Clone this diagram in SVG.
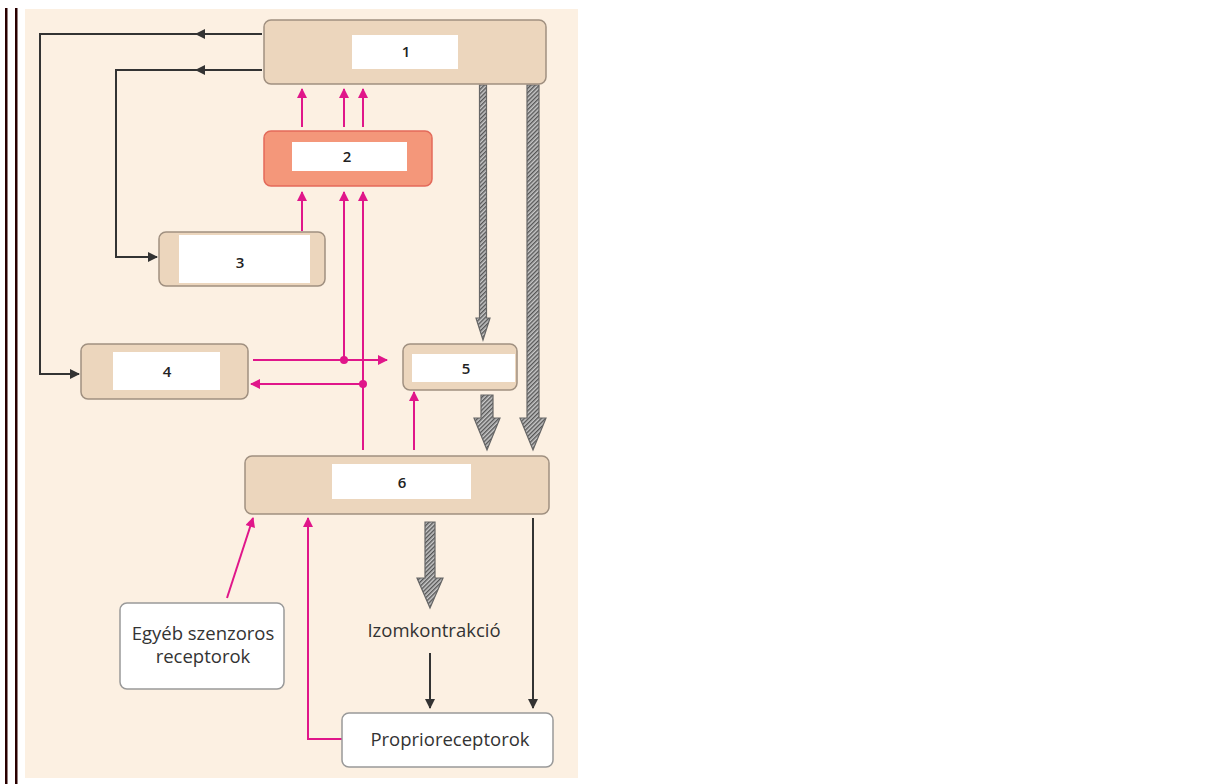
<svg xmlns="http://www.w3.org/2000/svg" width="1228" height="784" viewBox="0 0 1228 784">
<defs>
<style>
.tan{fill:#ecd6bd;stroke:#a09080;stroke-width:1.5}
.inner{fill:#ffffff;stroke:none}
.num{font-family:"Open Sans","Liberation Sans",sans-serif;font-size:15px;font-weight:600;fill:#222;text-anchor:middle}
.lbl{font-family:"Open Sans","Liberation Sans",sans-serif;font-size:18.5px;fill:#333;text-anchor:middle}
.wbox{fill:#ffffff;stroke:#999;stroke-width:1.5}
.pk{fill:none;stroke:#e0168a;stroke-width:2}
.bk{fill:none;stroke:#333;stroke-width:2}
.hatch{fill:url(#hp);stroke:#666;stroke-width:1.2}
</style>
<pattern id="hp" patternUnits="userSpaceOnUse" width="3" height="3" patternTransform="rotate(45)">
<rect width="3" height="3" fill="#c8c8c8"/>
<rect width="1.4" height="3" fill="#555"/>
</pattern>
<marker id="apk" viewBox="0 0 10 10" refX="9" refY="5" markerWidth="13" markerHeight="10" orient="auto" markerUnits="userSpaceOnUse">
<path d="M0,0 L10,5 L0,10 z" fill="#e0168a"/>
</marker>
<marker id="abk" viewBox="0 0 10 10" refX="9" refY="5" markerWidth="12" markerHeight="10" orient="auto" markerUnits="userSpaceOnUse">
<path d="M0,0 L10,5 L0,10 z" fill="#333"/>
</marker>
</defs>
<rect x="0" y="0" width="1228" height="784" fill="#ffffff"/>
<rect x="5" y="8" width="2.5" height="776" fill="#2a0000"/>
<rect x="15" y="8" width="2.5" height="776" fill="#2a0000"/>
<rect x="25" y="9" width="553" height="769" fill="#fcf0e2"/>

<g id="connectors">
<path class="bk" d="M262,34 L196,34" marker-end="url(#abk)"/>
<path class="bk" d="M198,34 L40,34 L40,374 L79,374" marker-end="url(#abk)"/>
<path class="bk" d="M262,70 L196,70" marker-end="url(#abk)"/>
<path class="bk" d="M198,70 L116,70 L116,257 L157,257" marker-end="url(#abk)"/>
<path class="pk" d="M302,127 L302,89" marker-end="url(#apk)"/>
<path class="pk" d="M344,127 L344,89" marker-end="url(#apk)"/>
<path class="pk" d="M363,127 L363,89" marker-end="url(#apk)"/>
<path class="pk" d="M302,231 L302,192" marker-end="url(#apk)"/>
<path class="pk" d="M344,360 L344,192" marker-end="url(#apk)"/>
<path class="pk" d="M363,450 L363,192" marker-end="url(#apk)"/>
<path class="pk" d="M253,360 L387,360" marker-end="url(#apk)"/>
<path class="pk" d="M363,384 L251,384" marker-end="url(#apk)"/>
<circle cx="344" cy="360" r="4" fill="#e0168a"/>
<circle cx="363" cy="384" r="4" fill="#e0168a"/>
<path class="pk" d="M414,450 L414,392" marker-end="url(#apk)"/>
<path class="pk" d="M227,598 L253,518" marker-end="url(#apk)"/>
<path class="pk" d="M342,739 L308,739 L308,518" marker-end="url(#apk)"/>
<polygon class="hatch" points="479.5,85 486.5,85 486.5,318 490,318 483,340 476,318 479.5,318"/>
<polygon class="hatch" points="527,85 539,85 539,418 546,418 533,450 520,418 527,418"/>
<polygon class="hatch" points="481,395 493,395 493,418 500,418 487,450 474,418 481,418"/>
<polygon class="hatch" points="425,522 435,522 435,578 443,578 430,608 417,578 425,578"/>
<path class="bk" d="M430,653 L430,708" marker-end="url(#abk)"/>
<path class="bk" d="M533,518 L533,708" marker-end="url(#abk)"/>
</g>

<g id="node1">
<rect class="tan" x="264" y="20" width="282" height="64" rx="7"/>
<rect class="inner" x="352" y="35" width="106" height="34"/>
<text class="num" x="406" y="57">1</text>
</g>
<g id="node2">
<rect x="264" y="131" width="168" height="55" rx="7" fill="#f4977a" stroke="#e36a5a" stroke-width="1.5"/>
<rect class="inner" x="292" y="142" width="115" height="29"/>
<text class="num" x="347" y="162">2</text>
</g>
<g id="node3">
<rect class="tan" x="159" y="232" width="166" height="54" rx="7"/>
<rect class="inner" x="179" y="235" width="131" height="48"/>
<text class="num" x="240" y="268">3</text>
</g>
<g id="node4">
<rect class="tan" x="81" y="344" width="167" height="55" rx="7"/>
<rect class="inner" x="113" y="352" width="107" height="38"/>
<text class="num" x="167" y="377">4</text>
</g>
<g id="node5">
<rect class="tan" x="403" y="344" width="114" height="46" rx="7"/>
<rect class="inner" x="412" y="354" width="103" height="28"/>
<text class="num" x="466" y="374">5</text>
</g>
<g id="node6">
<rect class="tan" x="245" y="456" width="304" height="58" rx="7"/>
<rect class="inner" x="332" y="464" width="139" height="35"/>
<text class="num" x="402" y="488">6</text>
</g>
<g id="node-egyeb">
<rect class="wbox" x="120" y="603" width="164" height="86" rx="7"/>
<text class="lbl" x="203" y="640">Egyéb szenzoros</text>
<text class="lbl" x="203" y="663">receptorok</text>
</g>
<g id="node-izom">
<text class="lbl" x="434" y="637">Izomkontrakció</text>
</g>
<g id="node-proprio">
<rect class="wbox" x="342" y="713" width="211" height="54" rx="7"/>
<text class="lbl" x="450" y="746">Proprioreceptorok</text>
</g>
</svg>
